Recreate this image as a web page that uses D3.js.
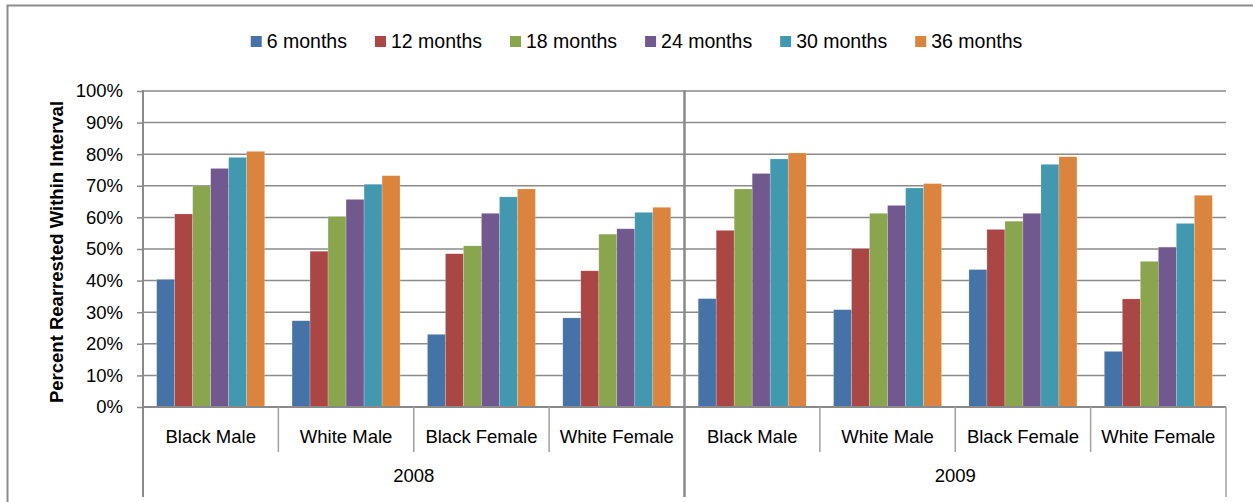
<!DOCTYPE html>
<html><head><meta charset="utf-8">
<script src="https://cdn.jsdelivr.net/npm/d3@7"></script>
<style>
html,body{margin:0;padding:0;background:#fff;}
svg{display:block;font-family:"Liberation Sans",Arial,sans-serif;}
</style></head>
<body>
<svg id="chart" width="1253" height="502"></svg>
<script>
const years = ["2008", "2009"];
const groups = ["Black Male", "White Male", "Black Female", "White Female"];
const seriesNames = ["6 months", "12 months", "18 months", "24 months", "30 months", "36 months"];
const colors = ["#4572A7", "#AA4643", "#89A54E", "#71588F", "#4198AF", "#DB843D"];
const yTicks = [0, 10, 20, 30, 40, 50, 60, 70, 80, 90, 100];
// values per series, in category order: 2008 BM, WM, BF, WF, 2009 BM, WM, BF, WF
const m6  = [40.4, 27.3, 23.0, 28.2, 34.3, 30.8, 43.5, 17.6];
const m12 = [61.1, 49.3, 48.5, 43.1, 55.9, 50.1, 56.2, 34.2];
const m18 = [70.0, 60.3, 51.0, 54.7, 69.0, 61.3, 58.8, 46.1];
const m24 = [75.5, 65.7, 61.3, 56.4, 73.9, 63.8, 61.3, 50.6];
const m30 = [79.0, 70.5, 66.5, 61.6, 78.5, 69.3, 76.8, 58.1];
const m36 = [80.9, 73.2, 69.0, 63.2, 80.4, 70.7, 79.2, 67.0];
const seriesValues = [m6, m12, m18, m24, m30, m36];

const svg = d3.select("#chart");
const L = 143, R = 1226, T = 91, B = 407;
const gridColor = "#8a8a8a";

// outer border (left and top visible)
svg.append("path").attr("d", "M7.5,502 V5.5 H1253").attr("fill","none").attr("stroke","#8c8c8c").attr("stroke-width",2);

const cats = [];
years.forEach(y => groups.forEach(g => cats.push(y + "|" + g)));

const x = d3.scaleBand().domain(cats).range([L, R]).padding(0);
const xi = d3.scaleBand().domain(seriesNames).range([0, x.bandwidth()]).paddingInner(0).paddingOuter(0.76);
const y = d3.scaleLinear().domain([0, 100]).range([B, T]);

// gridlines
svg.append("g").selectAll("line").data(yTicks.filter(t => t > 0)).join("line")
  .attr("x1", L).attr("x2", R).attr("y1", d => y(d)).attr("y2", d => y(d))
  .attr("stroke", gridColor).attr("stroke-width", 1.5);

// y axis
const yAxis = d3.axisLeft(y).tickValues(yTicks).tickFormat(d => d + "%").tickSize(6).tickPadding(14);
const gy = svg.append("g").attr("transform", `translate(${L},0)`).call(yAxis);
gy.select(".domain").remove();
gy.selectAll(".tick line").attr("stroke", gridColor).attr("stroke-width", 1.5);
gy.selectAll(".tick text").attr("font-size", 18.5).attr("fill", "#000").attr("font-family", "Liberation Sans, Arial, sans-serif");

// bars
const barG = svg.append("g");
seriesValues.forEach((vals, si) => {
  barG.append("g").selectAll("rect").data(vals).join("rect")
    .attr("x", (d, i) => x(cats[i]) + xi(seriesNames[si]))
    .attr("width", xi.bandwidth())
    .attr("y", d => y(d))
    .attr("height", d => y(0) - y(d))
    .attr("fill", colors[si])
    .attr("stroke", "rgba(255,255,255,0.35)").attr("stroke-width", 0.6);
});

// axis lines
svg.append("line").attr("x1", L).attr("x2", R).attr("y1", B).attr("y2", B).attr("stroke", gridColor).attr("stroke-width", 2);
svg.append("line").attr("x1", L).attr("x2", L).attr("y1", T - 1).attr("y2", 497).attr("stroke", gridColor).attr("stroke-width", 2);
const midX = x(years[1] + "|" + groups[0]);
svg.append("line").attr("x1", midX).attr("x2", midX).attr("y1", T - 1).attr("y2", 497).attr("stroke", gridColor).attr("stroke-width", 2.5);
svg.append("line").attr("x1", R).attr("x2", R).attr("y1", B).attr("y2", 497).attr("stroke", "#a0a0a0").attr("stroke-width", 1.5);

// category separators
cats.forEach((c, i) => {
  if (i % groups.length !== 0) {
    svg.append("line").attr("x1", x(c)).attr("x2", x(c)).attr("y1", B).attr("y2", 452)
      .attr("stroke", "#a0a0a0").attr("stroke-width", 1.5);
  }
});

// category labels
svg.append("g").selectAll("text").data(cats).join("text")
  .attr("x", d => x(d) + x.bandwidth() / 2).attr("y", 443)
  .attr("text-anchor", "middle").attr("font-size", 18.5).attr("fill", "#000")
  .text(d => d.split("|")[1]);

// year labels
svg.append("g").selectAll("text").data(years).join("text")
  .attr("x", yr => (x(yr + "|" + groups[0]) + x(yr + "|" + groups[groups.length - 1]) + x.bandwidth()) / 2)
  .attr("y", 482).attr("text-anchor", "middle").attr("font-size", 18.5).attr("fill", "#000")
  .text(d => d);

// y axis title
svg.append("text").attr("transform", "translate(63,252) rotate(-90)")
  .attr("text-anchor", "middle").attr("font-size", 18.5).attr("font-weight", "bold").attr("fill", "#000")
  .text("Percent Rearrested Within Interval");

// legend
const lg = svg.append("g");
let lx = 0;
seriesNames.forEach((s, i) => {
  const it = lg.append("g").attr("transform", `translate(${lx},0)`);
  it.append("rect").attr("x", 0).attr("y", 36).attr("width", 11).attr("height", 11).attr("fill", colors[i]);
  const t = it.append("text").attr("x", 16).attr("y", 48).attr("font-size", 19.5).attr("fill", "#000").text(s);
  lx += 16 + t.node().getComputedTextLength() + 28;
});
const totalW = lx - 28;
lg.attr("transform", `translate(${636.5 - totalW / 2},0)`);
</script>
</body></html>
